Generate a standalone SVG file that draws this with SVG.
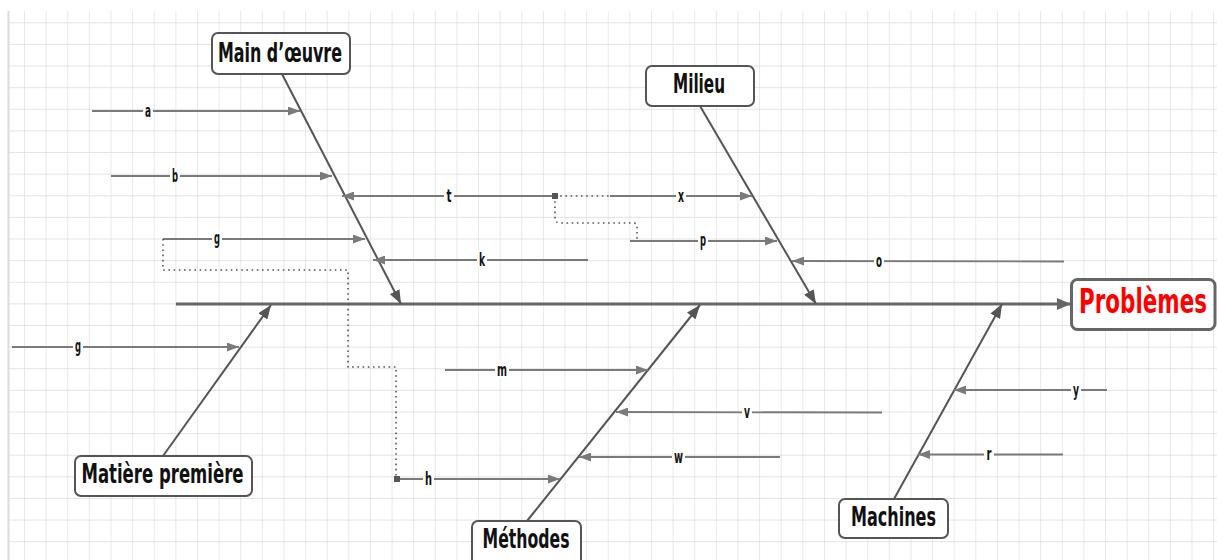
<svg xmlns="http://www.w3.org/2000/svg" width="1217" height="560" viewBox="0 0 1217 560">
<defs>
<pattern id="grid" x="3.38" y="1.68" width="21.62" height="21.62" patternUnits="userSpaceOnUse">
<path d="M21.62,0 V21.62 M0,21.62 H21.62" fill="none" stroke="#dcdcdc" stroke-width="1.3"/>
</pattern>
<marker id="sub" viewBox="0 0 12 9" refX="12" refY="4.5" markerWidth="12" markerHeight="9" markerUnits="userSpaceOnUse" orient="auto">
<path d="M0,0 L12,4.5 L0,9 z" fill="#7a7a7a"/>
</marker>
<marker id="main" viewBox="0 0 14 11" refX="14" refY="5.5" markerWidth="14" markerHeight="11" markerUnits="userSpaceOnUse" orient="auto">
<path d="M0,0 L14,5.5 L0,11 z" fill="#555"/>
</marker>
<marker id="spine" viewBox="0 0 14 12" refX="14" refY="6" markerWidth="14" markerHeight="12" markerUnits="userSpaceOnUse" orient="auto">
<path d="M0,0 L14,6 L0,12 z" fill="#666"/>
</marker>
</defs>
<style>
.box{fill:#fff;stroke:#555;stroke-width:2}
.nt{font-family:'DejaVu Sans Condensed','DejaVu Sans',sans-serif;font-weight:bold;font-size:26px;fill:#111;text-anchor:middle}
.pt{font-family:'DejaVu Sans Condensed','DejaVu Sans',sans-serif;font-weight:bold;font-size:34px;fill:#ff0000;text-anchor:middle}
.sub{stroke:#7a7a7a;stroke-width:1.8;fill:none;marker-end:url(#sub)}
.br{stroke:#555;stroke-width:2;fill:none;marker-end:url(#main)}
.dot{stroke:#555;stroke-width:1.6;fill:none;stroke-dasharray:1.6 3.6}
.lb{font-family:'DejaVu Sans Condensed','DejaVu Sans',sans-serif;font-weight:bold;font-size:17px;fill:#111;text-anchor:middle}
.lbg{fill:#fff}
</style>
<rect x="0" y="0" width="1217" height="560" fill="#fff"/>
<rect x="8" y="11" width="1209" height="549" fill="url(#grid)"/>
<line x1="8.5" y1="11" x2="8.5" y2="560" stroke="#dcdcdc" stroke-width="2"/>

<g id="connectors">
<line x1="176" y1="304" x2="1071" y2="304" stroke="#666" stroke-width="3" marker-end="url(#spine)"/>
<line class="br" x1="282" y1="74" x2="401" y2="304"/>
<line class="br" x1="700" y1="106" x2="816" y2="304"/>
<line class="br" x1="163" y1="456" x2="271" y2="305"/>
<line class="br" x1="527" y1="521" x2="700" y2="305"/>
<line class="br" x1="894" y1="499" x2="1002" y2="304"/>

<line class="sub" x1="92" y1="111" x2="300" y2="111"/>
<line class="sub" x1="111" y1="176" x2="332" y2="176"/>
<line class="sub" x1="163" y1="239" x2="365" y2="239"/>
<line class="sub" x1="555" y1="196" x2="342" y2="196"/>
<line class="sub" x1="610" y1="196" x2="752" y2="196"/>
<line class="sub" x1="630" y1="241" x2="777" y2="241"/>
<line class="sub" x1="588" y1="260" x2="373" y2="260"/>
<line class="sub" x1="1064" y1="261.5" x2="792" y2="261"/>
<line class="sub" x1="12" y1="347" x2="239" y2="347"/>
<line class="sub" x1="445" y1="370" x2="648" y2="370"/>
<line class="sub" x1="882" y1="412.5" x2="616" y2="412"/>
<line class="sub" x1="780" y1="457" x2="579" y2="457"/>
<line class="sub" x1="397" y1="479" x2="560" y2="479"/>
<line class="sub" x1="1107" y1="390" x2="954" y2="390"/>
<line class="sub" x1="1063" y1="454.5" x2="918" y2="454.5"/>

<path class="dot" d="M555,196 H610"/>
<path class="dot" d="M555,196 V218 Q555,223 560,223 H634 Q637,223 637,227 V241"/>
<path class="dot" d="M163,239 V270 H348 V367 H396 V478"/>
<rect x="552" y="193" width="6" height="6" fill="#555"/>
<rect x="394" y="476" width="6" height="6" fill="#555"/>

<g id="labels">
<rect class="lbg" x="143" y="103" width="10" height="16"/><text class="lb" x="148" y="116.5" textLength="6" lengthAdjust="spacingAndGlyphs">a</text>
<rect class="lbg" x="170" y="167" width="10" height="16"/><text class="lb" x="175" y="181.5" textLength="6" lengthAdjust="spacingAndGlyphs">b</text>
<rect class="lbg" x="212" y="231" width="10" height="16"/><text class="lb" x="217" y="244" textLength="6" lengthAdjust="spacingAndGlyphs">g</text>
<rect class="lbg" x="444" y="187" width="10" height="16"/><text class="lb" x="449" y="201.5" textLength="5" lengthAdjust="spacingAndGlyphs">t</text>
<rect class="lbg" x="676" y="188" width="10" height="16"/><text class="lb" x="681" y="201.5" textLength="6" lengthAdjust="spacingAndGlyphs">x</text>
<rect class="lbg" x="698" y="233" width="10" height="16"/><text class="lb" x="703" y="246" textLength="6" lengthAdjust="spacingAndGlyphs">p</text>
<rect class="lbg" x="477" y="251" width="10" height="16"/><text class="lb" x="482" y="265.5" textLength="6" lengthAdjust="spacingAndGlyphs">k</text>
<rect class="lbg" x="874" y="253" width="10" height="16"/><text class="lb" x="879" y="267" textLength="6" lengthAdjust="spacingAndGlyphs">o</text>
<rect class="lbg" x="73" y="339" width="10" height="16"/><text class="lb" x="78" y="352" textLength="6" lengthAdjust="spacingAndGlyphs">g</text>
<rect class="lbg" x="495" y="362" width="14" height="16"/><text class="lb" x="502" y="375.5" textLength="10" lengthAdjust="spacingAndGlyphs">m</text>
<rect class="lbg" x="742" y="404" width="10" height="16"/><text class="lb" x="747" y="417.5" textLength="6" lengthAdjust="spacingAndGlyphs">v</text>
<rect class="lbg" x="672" y="449" width="13" height="16"/><text class="lb" x="678.5" y="462.5" textLength="9" lengthAdjust="spacingAndGlyphs">w</text>
<rect class="lbg" x="423" y="470" width="11" height="16"/><text class="lb" x="428.5" y="484.5" textLength="7" lengthAdjust="spacingAndGlyphs">h</text>
<rect class="lbg" x="1071" y="382" width="10" height="16"/><text class="lb" x="1076" y="395.5" textLength="6" lengthAdjust="spacingAndGlyphs">y</text>
<rect class="lbg" x="984" y="446" width="10" height="16"/><text class="lb" x="989" y="460" textLength="5" lengthAdjust="spacingAndGlyphs">r</text>
</g>
</g>

<g id="node-main-oeuvre">
<rect class="box" x="212" y="33" width="138" height="41" rx="6"/>
<text class="nt" x="280" y="62" textLength="124" lengthAdjust="spacingAndGlyphs">Main d’œuvre</text>
</g>
<g id="node-milieu">
<rect class="box" x="646" y="66" width="108" height="40" rx="6"/>
<text class="nt" x="699" y="93" textLength="52" lengthAdjust="spacingAndGlyphs">Milieu</text>
</g>
<g id="node-problemes">
<rect x="1071.5" y="279.5" width="143.5" height="50" rx="6" fill="#fff" stroke="#666" stroke-width="3"/>
<text class="pt" transform="translate(1143,313) scale(0.7,1)" x="0" y="0" textLength="183" lengthAdjust="spacingAndGlyphs">Problèmes</text>
</g>
<g id="node-matiere">
<rect class="box" x="75" y="456" width="177" height="40" rx="6"/>
<text class="nt" x="162.5" y="483" textLength="162" lengthAdjust="spacingAndGlyphs">Matière première</text>
</g>
<g id="node-methodes">
<rect class="box" x="472" y="521" width="109" height="45" rx="6"/>
<text class="nt" x="526" y="548" textLength="87" lengthAdjust="spacingAndGlyphs">Méthodes</text>
</g>
<g id="node-machines">
<rect class="box" x="839" y="499" width="109" height="39" rx="6"/>
<text class="nt" x="893.5" y="526" textLength="85" lengthAdjust="spacingAndGlyphs">Machines</text>
</g>
</svg>
